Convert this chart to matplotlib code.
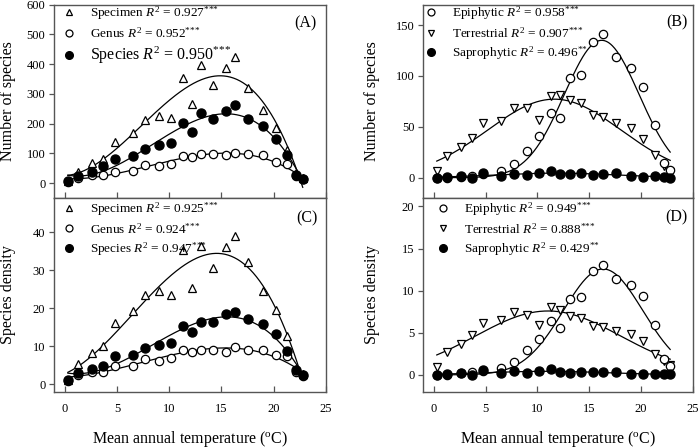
# Orchid richness / density vs mean annual temperature, four panels

import matplotlib
matplotlib.use('Agg')
import matplotlib.pyplot as plt
from matplotlib.lines import Line2D
import numpy as np

matplotlib.rc('font', family='Liberation Serif', size=10)
matplotlib.rc('mathtext', fontset='custom', rm='Liberation Serif',
              it='Liberation Serif:italic', bf='Liberation Serif:bold')

# Mean annual temperature of the sites (same for every panel)
temp = [0.3, 1.3, 2.6, 3.7, 4.8, 6.5, 7.7, 9.0, 10.2, 11.3, 12.2,
        13.1, 14.2, 15.4, 16.3, 17.6, 19.0, 20.2, 21.3, 22.2, 22.8]

# (A) number of species
a_specimen = [8, 39, 67, 81, 140, 168, 213, 227, 220, 354, 265,
              398, 331, 388, 425, 320, 247, 184, 110, 33, 18]
a_genus = [5, 17, 26, 28, 38, 42, 61, 56, 64, 91, 87,
           97, 97, 93, 103, 97, 93, 71, 63, 24, 13]
a_species = [6, 25, 39, 56, 81, 90, 115, 127, 135, 203, 172,
             235, 217, 244, 262, 216, 193, 148, 96, 28, 15]
a_labels = [r'Specimen $R^2$ = 0.927$^{{*}{*}{*}}$',
            r'Genus $R^2$ = 0.952$^{{*}{*}{*}}$',
            r'Species $R^2$ = 0.950$^{{*}{*}{*}}$']

# (C) species density
c_specimen = [1.2, 5.3, 8.1, 10.0, 16.1, 19.3, 23.4, 24.6, 23.4, 35.4, 25.2,
              36.3, 30.5, 36.1, 39.0, 32.1, 24.6, 19.5, 12.6, 4.0, 2.6]
c_genus = [0.9, 2.5, 3.1, 3.3, 4.7, 4.8, 6.6, 6.2, 6.8, 9.0, 8.4,
           9.0, 9.1, 8.4, 9.7, 9.1, 9.1, 7.6, 7.3, 3.2, 2.2]
c_species = [1.0, 2.9, 4.1, 4.9, 7.3, 7.6, 9.5, 10.3, 10.7, 15.2, 13.6,
             16.4, 16.4, 18.5, 19.1, 17.1, 15.7, 13.3, 8.6, 3.6, 2.4]
c_labels = [r'Specimen $R^2$ = 0.925$^{{*}{*}{*}}$',
            r'Genus $R^2$ = 0.924$^{{*}{*}{*}}$',
            r'Species $R^2$ = 0.947$^{{*}{*}{*}}$']

# (B) number of species by life form
b_epiphytic = [0, 0, 1, 2, 4, 6.6, 13, 26, 41, 64, 59,
               98, 101, 133, 141, 119, 108, 89, 52, 14, 8]
b_terrestrial = [6.6, 21, 30, 39, 54, 56, 68, 68, 57, 80, 81,
                 76, 73, 62, 60, 54, 49, 38, 22, 11, 6]
b_saprophytic = [0, 0.5, 2, 0, 4.5, 2, 4, 2.7, 4.3, 7, 3.6,
                 3.3, 4.3, 2.7, 3.3, 4.3, 2, 1, 1.6, 1, 0]
b_labels = [r'Epiphytic $R^2$ = 0.958$^{{*}{*}{*}}$',
            r'Terrestrial $R^2$ = 0.907$^{{*}{*}{*}}$',
            r'Saprophytic $R^2$ = 0.496$^{{*}{*}}$']

# (D) species density by life form
d_epiphytic = [0, 0, 0.2, 0.3, 0.5, 0.8, 1.5, 2.9, 4.3, 6.4, 5.6,
               9.0, 9.3, 12.3, 13.1, 11.4, 10.7, 9.4, 5.9, 1.9, 1.1]
d_terrestrial = [0.9, 2.7, 3.7, 4.7, 6.2, 6.5, 7.5, 7.1, 5.9, 8.0, 7.7,
                 7.0, 6.7, 5.8, 5.7, 5.2, 4.9, 4.0, 2.5, 1.6, 1.2]
d_saprophytic = [0, 0.05, 0.2, 0, 0.55, 0.25, 0.45, 0.25, 0.4, 0.7, 0.3,
                 0.25, 0.35, 0.3, 0.3, 0.35, 0.1, 0.05, 0.1, 0.15, 0.05]
d_labels = [r'Epiphytic $R^2$ = 0.949$^{{*}{*}{*}}$',
            r'Terrestrial $R^2$ = 0.888$^{{*}{*}{*}}$',
            r'Saprophytic $R^2$ = 0.429$^{{*}{*}}$']


# Cubic polynomial fit
def cubic_fit(x, y):
    x = np.asarray(x, float)
    coef = np.polyfit(x, np.asarray(y, float), 3)
    xs = np.linspace(x.min(), x.max(), 300)
    return xs, np.polyval(coef, xs)


# Gaussian (3 parameter) fit with a small Levenberg-Marquardt loop
def gauss_fit(x, y):
    x = np.asarray(x, float)
    y = np.asarray(y, float)

    def f(p, xx):
        return p[0] * np.exp(-0.5 * ((xx - p[1]) / p[2]) ** 2)

    p = np.array([y.max(), x[np.argmax(y)], 5.0])
    lam = 1e-2
    for _ in range(500):
        r = y - f(p, x)
        e = np.exp(-0.5 * ((x - p[1]) / p[2]) ** 2)
        J = np.column_stack([e,
                             p[0] * e * (x - p[1]) / p[2] ** 2,
                             p[0] * e * (x - p[1]) ** 2 / p[2] ** 3])
        A = J.T @ J
        step = np.linalg.solve(A + lam * np.diag(np.diag(A)), J.T @ r)
        pn = p + step
        if np.sum((y - f(pn, x)) ** 2) < np.sum(r ** 2):
            p = pn
            lam *= 0.3
        else:
            lam *= 10
    xs = np.linspace(x.min(), x.max(), 300)
    return xs, f(p, xs)


open_style = dict(linestyle='none', markerfacecolor='white', markeredgecolor='black',
                  markeredgewidth=0.9, markersize=6, zorder=3)
fill_style = dict(linestyle='none', color='black', markersize=6.5, zorder=3)
spine_col = '#555555'


def style_axes(ax, ylim, yticks, show_xlabels):
    ax.set_xlim(-1, 25)
    ax.set_ylim(*ylim)
    ax.set_xticks([0, 5, 10, 15, 20, 25])
    ax.set_yticks(yticks)
    for s in ax.spines.values():
        s.set_color(spine_col)
        s.set_linewidth(1.0)
    ax.tick_params(axis='x', direction='in', length=4, width=0.9, color=spine_col,
                   pad=8, labelsize=9, labelbottom=show_xlabels)
    ax.tick_params(axis='y', direction='out', length=3.5, width=0.9, color=spine_col,
                   pad=3, labelsize=9)


def add_legend(ax, markers, labels, anchor, big_last=False):
    handles = []
    for m in markers:
        if m[1] == 'open':
            handles.append(Line2D([], [], marker=m[0], **dict(open_style, markersize=5)))
        else:
            handles.append(Line2D([], [], marker=m[0], **dict(fill_style, markersize=5.5)))
    leg = ax.legend(handles, labels, loc='upper left', bbox_to_anchor=anchor,
                    frameon=False, fontsize=9.5, handlelength=1.0, handletextpad=1.1,
                    borderpad=0, borderaxespad=0, labelspacing=0.3)
    if big_last:
        leg.get_texts()[-1].set_fontsize(11.5)


fig = plt.figure(figsize=(7, 4.47), dpi=100)
ax_a = fig.add_axes([0.0776, 0.557, 0.3877, 0.4325])
ax_c = fig.add_axes([0.0776, 0.1237, 0.3877, 0.4333])
ax_b = fig.add_axes([0.6047, 0.557, 0.3853, 0.4325])
ax_d = fig.add_axes([0.6047, 0.1237, 0.3853, 0.4333])

x = np.array(temp)

# Panel A and C: polynomial fits
for ax, spec, gen, sp in [(ax_a, a_specimen, a_genus, a_species),
                          (ax_c, c_specimen, c_genus, c_species)]:
    for series in (spec, gen, sp):
        xs, ys = cubic_fit(x, series)
        ax.plot(xs, ys, color='black', linewidth=0.9, zorder=2)
    ax.plot(x, spec, marker='^', **open_style)
    ax.plot(x, gen, marker='o', **open_style)
    ax.plot(x, sp, marker='o', **fill_style)

# Panel B and D: gaussian fits
for ax, epi, ter, sap in [(ax_b, b_epiphytic, b_terrestrial, b_saprophytic),
                          (ax_d, d_epiphytic, d_terrestrial, d_saprophytic)]:
    for series in (epi, ter, sap):
        xs, ys = gauss_fit(x, series)
        ax.plot(xs, ys, color='black', linewidth=0.9, zorder=2)
    ax.plot(x, ter, marker='v', **open_style)
    ax.plot(x, epi, marker='o', **open_style)
    ax.plot(x, sap, marker='o', **fill_style)

style_axes(ax_a, (-50, 600), np.arange(0, 601, 100), False)
style_axes(ax_c, (-2, 49), np.arange(0, 41, 10), True)
style_axes(ax_b, (-20, 170), [0, 50, 100, 150], False)
style_axes(ax_d, (-2, 21), np.arange(0, 21, 5), True)

abc_markers = [('^', 'open'), ('o', 'open'), ('o', 'fill')]
life_markers = [('o', 'open'), ('v', 'open'), ('o', 'fill')]
add_legend(ax_a, abc_markers, a_labels, (0.029, 1.0), big_last=True)
add_legend(ax_c, abc_markers, c_labels, (0.029, 0.99))
add_legend(ax_b, life_markers, b_labels, (0.004, 1.0))
add_legend(ax_d, life_markers, d_labels, (0.048, 0.99))

# Panel tags
for ax, tag, px, py in [(ax_a, '(A)', 0.967, 0.905), (ax_b, '(B)', 0.981, 0.91),
                        (ax_c, '(C)', 0.972, 0.897), (ax_d, '(D)', 0.979, 0.902)]:
    ax.text(px, py, tag, transform=ax.transAxes, ha='right', va='center', fontsize=11.5)

# Axis labels
ax_a.set_ylabel('Number of species', fontsize=11.5)
ax_b.set_ylabel('Number of species', fontsize=11.5)
ax_c.set_ylabel('Species density', fontsize=11.5)
ax_d.set_ylabel('Species density', fontsize=11.5)
ax_a.yaxis.set_label_coords(-0.14, 0.5)
ax_c.yaxis.set_label_coords(-0.14, 0.5)
ax_b.yaxis.set_label_coords(-0.16, 0.5)
ax_d.yaxis.set_label_coords(-0.16, 0.5)

xlab = r'Mean annual temperature ($^{\rm o}$C)'
for ax in (ax_c, ax_d):
    ax.set_xlabel(xlab, fontsize=11.5)
    ax.xaxis.set_label_coords(0.5, -0.19)

plt.savefig('out.png', dpi=100)
